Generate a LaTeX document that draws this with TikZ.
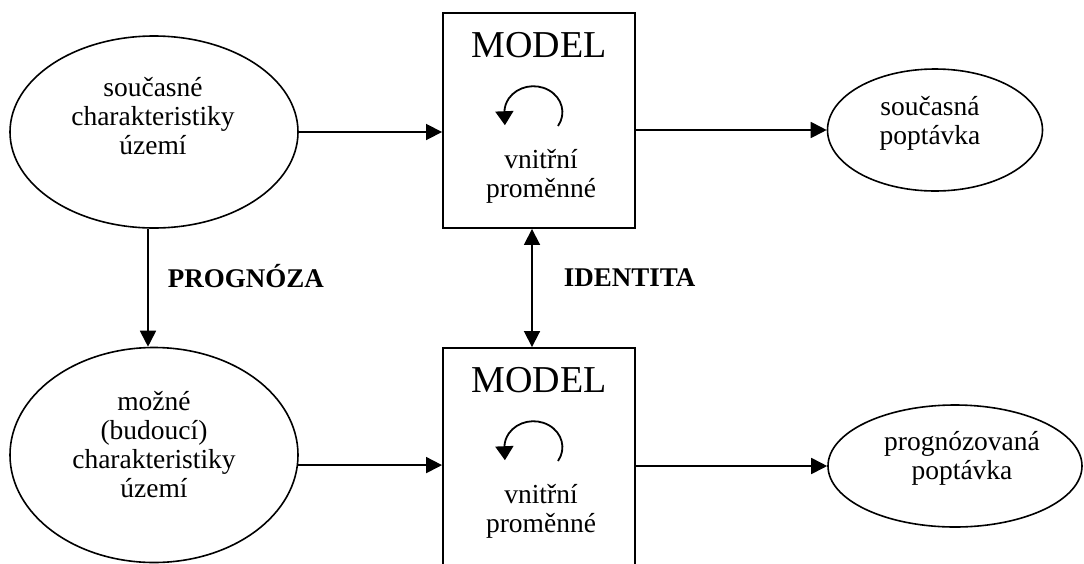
\documentclass[tikz,border=0pt]{standalone}
\usepackage{fontspec}
\setmainfont{Liberation Serif}
\usetikzlibrary{shapes.geometric,arrows.meta}
% centred lines whose baseline is that of the first line
\newcommand\mlines[1]{{\setlength\tabcolsep{0pt}\begin{tabular}[t]{c}#1\end{tabular}}}

\begin{document}
\begin{tikzpicture}[x=1pt,y=-1pt,
  line width=1.8pt,
  oval/.style={draw, ellipse, inner sep=0pt, line width=1.6pt},
  modelbox/.style={draw, rectangle, inner sep=0pt, minimum width=192pt, line width=1.9pt},
  txt/.style={anchor=base, inner sep=0pt, font=\fontsize{27.5}{29}\selectfont},
  title/.style={anchor=base, inner sep=0pt, font=\fontsize{38}{40}\selectfont},
  lbl/.style={anchor=base west, inner sep=0pt, font=\fontsize{27}{29}\selectfont\bfseries},
  tip/.tip={Triangle[length=16pt,width=16pt]},
  looptip/.tip={Triangle[length=14pt,width=18pt]},
  flow/.style={-tip},
  both/.style={tip-tip},
  loop arrow/.style={-looptip, line width=1.8pt},
]
\useasboundingbox (0,0) rectangle (1084,563);
\clip (0,0) rectangle (1084,563);

% shapes
\node[oval, minimum width=288pt, minimum height=192pt] (cur) at (154,132) {};
\node[oval, minimum width=288pt, minimum height=215pt] (fut) at (154,455) {};
\node[oval, minimum width=215pt, minimum height=122pt] (dem) at (935,130) {};
\node[oval, minimum width=254pt, minimum height=122pt] (fdem) at (955,466) {};
\node[modelbox, minimum height=215pt] (m1) at (539,120.5) {};
\node[modelbox, minimum height=240pt] (m2) at (539,468) {};

% texts
\node[txt] (tcur) at (153,96) {\mlines{současné\\charakteristiky\\území}};
\node[txt] (tfut) at (154,410) {\mlines{možné\\(budoucí)\\charakteristiky\\území}};
\node[txt] (tdem) at (930,115) {\mlines{současná\\poptávka}};
\node[txt] (tfdem) at (962,450) {\mlines{prognózovaná\\poptávka}};
\node[title] (h1) at (539,57) {MODEL};
\node[title] (h2) at (539,392) {MODEL};
\node[txt] (v1) at (541,168) {\mlines{vnitřní\\proměnné}};
\node[txt] (v2) at (541,503) {\mlines{vnitřní\\proměnné}};
\node[lbl] (prog) at (167,287) {PROGNÓZA};
\node[lbl] (iden) at (563,286) {IDENTITA};

% internal loops
\coordinate (l1) at (558,126);
\coordinate (l2) at (558,461);
\draw[loop arrow] (l1) arc[start angle=32, end angle=-180, x radius=29, y radius=26] -- ++(0.5,13);
\draw[loop arrow] (l2) arc[start angle=32, end angle=-180, x radius=29, y radius=26] -- ++(0.5,13);

% connectors
\draw[flow] (cur.east) -- (cur.east -| m1.west);
\draw[flow] (m1.east |- dem.west) -- (dem.west);
\draw[flow] (fut.-4.4) -- (fut.-4.4 -| m2.west);
\draw[flow] (m2.east |- fdem.west) -- (fdem.west);
\draw[flow] ([xshift=-6pt]cur.south) -- ([xshift=-6pt]fut.north);
\draw[both] ([xshift=-7pt]m1.south) -- ([xshift=-7pt]m2.north);
\end{tikzpicture}
\end{document}
